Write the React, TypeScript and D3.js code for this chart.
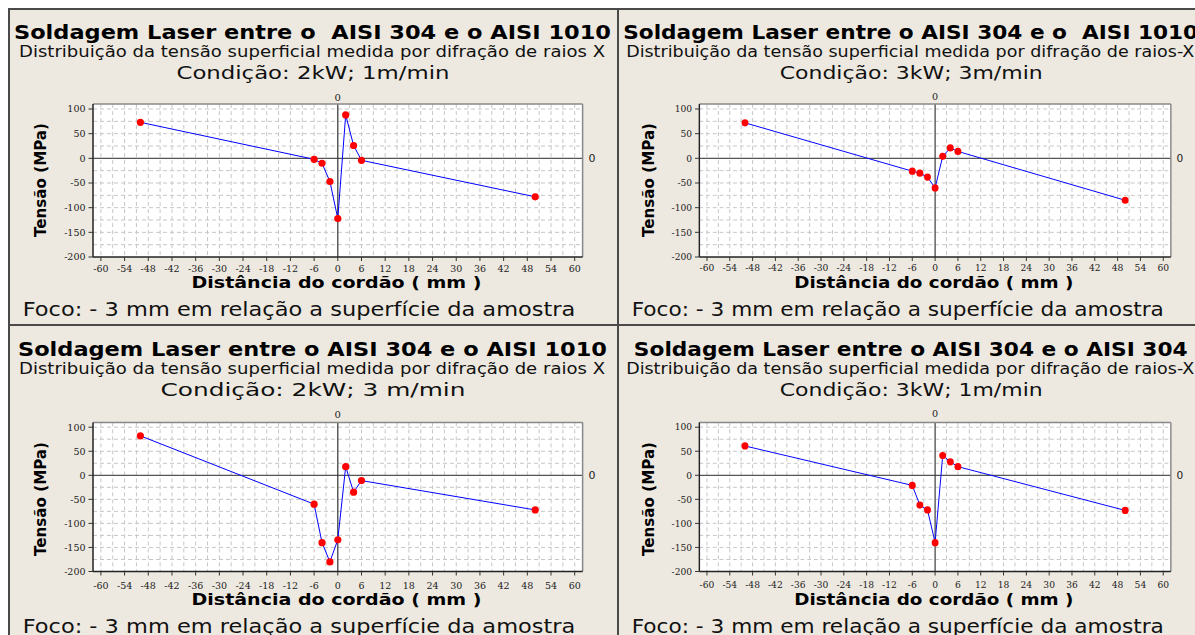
import React from 'react';
import * as d3 from 'd3';

// ---- data ----
const distances = [-50, -6, -4, -2, 0, 2, 4, 6, 50];
const tension2kW1m = [73, -2, -10, -47, -122, 88, 26, -4, -78];
const tension3kW3m = [72, -26, -30, -38, -60, 4, 21, 14, -85];
const tension2kW3m = [82, -60, -140, -180, -134, 18, -35, -11, -72];
const tension3kW1m = [61, -21, -62, -72, -140, 41, 28, 18, -73];

const titles = [
  'Soldagem Laser entre o  AISI 304 e o AISI 1010',
  'Soldagem Laser entre o AISI 304 e o  AISI 1010',
  'Soldagem Laser entre o AISI 304 e o AISI 1010',
  'Soldagem Laser entre o AISI 304 e o AISI 304',
];
const subtitles = [
  'Distribuição da tensão superficial medida por difração de raios X',
  'Distribuição da tensão superficial medida por difração de raios-X',
  'Distribuição da tensão superficial medida por difração de raios X',
  'Distribuição da tensão superficial medida por difração de raios-X',
];
const conditions = [
  'Condição: 2kW; 1m/min',
  'Condição: 3kW; 3m/min',
  'Condição: 2kW; 3 m/min',
  'Condição: 3kW; 1m/min',
];
const xTicks = [-60, -54, -48, -42, -36, -30, -24, -18, -12, -6, 0, 6, 12, 18, 24, 30, 36, 42, 48, 54, 60];
const yTicks = [100, 50, 0, -50, -100, -150, -200];
const xAxisTitle = 'Distância do cordão ( mm )';
const yAxisTitle = 'Tensão (MPa)';
const footnote = 'Foco: - 3 mm em relação a superfície da amostra';
const seriesByPanel = [tension2kW1m, tension3kW3m, tension2kW3m, tension3kW1m];

// ---- layout / style ----
const W = 1195;
const H = 635;
const BG = '#EDE9E0';
const SANS = '"DejaVu Sans", Verdana, sans-serif';
const SERIF = '"DejaVu Serif", serif';
const panelLayout = [
  { col: 0, row: 0, titleLen: 597, subLen: 586, condLen: 273 },
  { col: 1, row: 0, titleLen: 597, subLen: 590, condLen: 273 },
  { col: 0, row: 1, titleLen: 589, subLen: 586, condLen: 305 },
  { col: 1, row: 1, titleLen: 575, subLen: 590, condLen: 273 },
];
const rowY = [
  { dy: 0, yRange: [257, 109], yTitleY: 180 },
  { dy: 317, yRange: [254.5, 110.2], yTitleY: 182 },
];

function Panel({ idx }: { idx: number }) {
  const L = panelLayout[idx];
  const R = rowY[L.row];
  const values = seriesByPanel[idx];
  const x = d3.scaleLinear().domain([-62, 62]).range([85, 574.6]);
  const y = d3.scaleLinear().domain([-200, 100]).range(R.yRange);
  const top = y(110);
  const bottom = y(-200);
  const left = x(-62);
  const right = x(62);
  const pts = distances.map((d, i) => [d, values[i]] as [number, number]);
  const line = d3
    .line<[number, number]>()
    .x((d) => x(d[0]))
    .y((d) => y(d[1]));
  const gridX = d3.range(-60, 61, 3).filter((v) => v !== 0);
  const gridY = d3.range(-175, 101, 25).filter((v) => v !== 0);
  const transform =
    L.col === 0
      ? `translate(8,${R.dy})`
      : `translate(617.5,${R.dy}) scale(0.963,1)`;
  return (
    <g transform={transform}>
      <text
        x={304.5}
        y={39.3}
        textAnchor="middle"
        fontFamily={SANS}
        fontWeight="bold"
        fontSize={19.5}
        textLength={L.titleLen}
        lengthAdjust="spacingAndGlyphs"
        style={{ whiteSpace: 'pre' }}
        fill="#000"
      >
        {titles[idx]}
      </text>
      <text
        x={304}
        y={57.3}
        textAnchor="middle"
        fontFamily={SANS}
        fontSize={15}
        textLength={L.subLen}
        lengthAdjust="spacingAndGlyphs"
        fill="#111"
      >
        {subtitles[idx]}
      </text>
      <text
        x={305}
        y={78.7}
        textAnchor="middle"
        fontFamily={SANS}
        fontSize={18}
        textLength={L.condLen}
        lengthAdjust="spacingAndGlyphs"
        fill="#111"
      >
        {conditions[idx]}
      </text>

      {/* plot area */}
      <rect x={left} y={top} width={right - left} height={bottom - top} fill="#fff" />
      {gridX.map((v) => (
        <line
          key={'gx' + v}
          x1={x(v)}
          x2={x(v)}
          y1={top}
          y2={bottom}
          stroke="#C6C6C6"
          strokeWidth={1}
          strokeDasharray="4 3"
        />
      ))}
      {gridY.map((v) => (
        <line
          key={'gy' + v}
          x1={left}
          x2={right}
          y1={y(v)}
          y2={y(v)}
          stroke="#C6C6C6"
          strokeWidth={1}
          strokeDasharray="4 3"
        />
      ))}
      <line x1={left} x2={right} y1={y(0)} y2={y(0)} stroke="#555" strokeWidth={1.2} />
      <line x1={x(0)} x2={x(0)} y1={top} y2={bottom} stroke="#333" strokeWidth={1.2} />
      {/* frame */}
      <line x1={left} x2={right} y1={top} y2={top} stroke="#888" strokeWidth={1.5} />
      <line x1={right} x2={right} y1={top} y2={bottom} stroke="#888" strokeWidth={1.5} />
      <line x1={left} x2={left} y1={top} y2={bottom} stroke="#222" strokeWidth={1.5} />
      <line x1={left} x2={right} y1={bottom} y2={bottom} stroke="#222" strokeWidth={1.5} />

      {/* y axis */}
      {yTicks.map((v) => (
        <g key={'yt' + v}>
          <line x1={left - 4.5} x2={left} y1={y(v)} y2={y(v)} stroke="#333" strokeWidth={1} />
          <text
            x={77.5}
            y={y(v) + 3.3}
            textAnchor="end"
            fontFamily={SERIF}
            fontSize={9.5}
            fill="#222"
          >
            {v}
          </text>
        </g>
      ))}
      {/* x axis */}
      {xTicks.map((v) => (
        <g key={'xt' + v}>
          <line x1={x(v)} x2={x(v)} y1={bottom} y2={bottom + 4} stroke="#333" strokeWidth={1} />
          <text
            x={x(v)}
            y={271.5}
            textAnchor="middle"
            fontFamily={SERIF}
            fontSize={9.5}
            fill="#222"
          >
            {v}
          </text>
        </g>
      ))}
      <text x={x(0)} y={100.5} textAnchor="middle" fontFamily={SERIF} fontSize={10} fill="#222">
        0
      </text>
      <text x={584} y={y(0) + 4} textAnchor="middle" fontFamily={SANS} fontSize={11} fill="#222">
        0
      </text>

      {/* series */}
      <path d={line(pts) || ''} fill="none" stroke="#0000FF" strokeWidth={1} />
      {pts.map((d, i) => (
        <circle key={'p' + i} cx={x(d[0])} cy={y(d[1])} r={3.6} fill="#FF0000" />
      ))}

      {/* axis titles */}
      <text
        x={328.5}
        y={288.3}
        textAnchor="middle"
        fontFamily={SANS}
        fontWeight="bold"
        fontSize={16}
        textLength={290}
        lengthAdjust="spacingAndGlyphs"
        fill="#000"
      >
        {xAxisTitle}
      </text>
      <text
        transform={`translate(38.3,${R.yTitleY}) rotate(-90)`}
        textAnchor="middle"
        fontFamily={SANS}
        fontWeight="bold"
        fontSize={16.5}
        textLength={114}
        lengthAdjust="spacingAndGlyphs"
        fill="#000"
      >
        {yAxisTitle}
      </text>
      <text
        x={291}
        y={315.7}
        textAnchor="middle"
        fontFamily={SANS}
        fontSize={19}
        textLength={552.6}
        lengthAdjust="spacingAndGlyphs"
        fill="#111"
      >
        {footnote}
      </text>
    </g>
  );
}

export default function App() {
  return (
    <svg
      width={W}
      height={H}
      viewBox={`0 0 ${W} ${H}`}
      style={{ position: 'absolute', left: 0, top: 0, background: '#fff' }}
    >
      <rect x={8} y={8} width={W} height={H} fill={BG} />
      {panelLayout.map((_, i) => (
        <Panel key={i} idx={i} />
      ))}
      <g stroke="#4a4a4a" strokeWidth={2}>
        <line x1={8} y1={9} x2={W} y2={9} />
        <line x1={9} y1={8} x2={9} y2={H} />
        <line x1={618} y1={8} x2={618} y2={H} />
        <line x1={8} y1={325} x2={W} y2={325} />
      </g>
    </svg>
  );
}
